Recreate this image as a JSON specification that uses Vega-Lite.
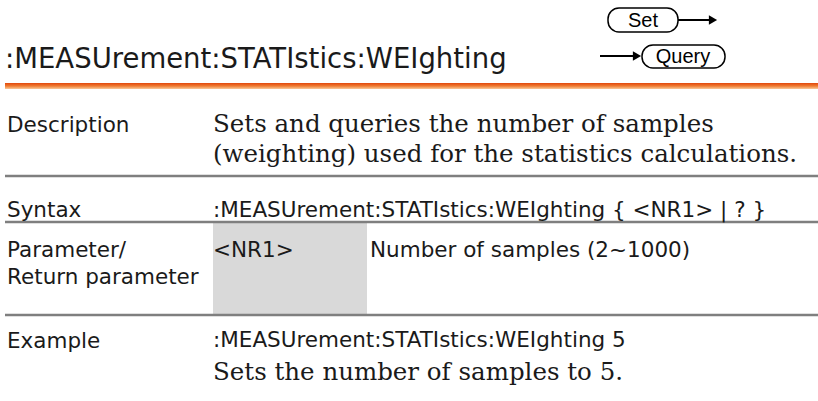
{
  "$schema": "https://vega.github.io/schema/vega-lite/v6.json",
  "width": 818,
  "height": 401,
  "padding": 0,
  "autosize": {"type": "none"},
  "background": "white",
  "config": {"view": {"stroke": null}},
  "layer": [
    {
      "data": {"values": [{"x": 213, "x2": 367, "y": 223, "y2": 314}]},
      "mark": {"type": "rect", "color": "#d9d9d9"},
      "encoding": {
        "x": {"field": "x", "type": "quantitative", "scale": {"domain": [0, 818], "nice": false, "zero": false}, "axis": null},
        "x2": {"field": "x2"},
        "y": {"field": "y", "type": "quantitative", "scale": {"domain": [0, 401], "nice": false, "zero": false, "reverse": true}, "axis": null},
        "y2": {"field": "y2"}
      }
    },
    {
      "data": {"values": [{"x": 5, "x2": 818, "y": 83, "y2": 89}]},
      "mark": {"type": "rect", "color": {"gradient": "linear", "x1": 0, "y1": 0, "x2": 0, "y2": 1, "stops": [{"offset": 0, "color": "#e2470c"}, {"offset": 0.5, "color": "#ef7a30"}, {"offset": 1, "color": "#f9c99a"}]}},
      "encoding": {
        "x": {"field": "x", "type": "quantitative", "axis": null},
        "x2": {"field": "x2"},
        "y": {"field": "y", "type": "quantitative", "axis": null},
        "y2": {"field": "y2"}
      }
    },
    {
      "data": {"values": [{"x": 5, "x2": 818, "y": 176}, {"x": 5, "x2": 818, "y": 222}, {"x": 5, "x2": 818, "y": 315}]},
      "mark": {"type": "rule", "color": "#7f7f7f", "strokeWidth": 2.5},
      "encoding": {
        "x": {"field": "x", "type": "quantitative", "axis": null},
        "x2": {"field": "x2"},
        "y": {"field": "y", "type": "quantitative", "axis": null}
      }
    },
    {
      "data": {"values": [{"text": ":MEASUrement:STATIstics:WEIghting", "x": 5, "y": 68}]},
      "mark": {"type": "text", "font": "DejaVu Sans", "fontSize": 27.5, "align": "left", "baseline": "alphabetic", "color": "#1a1a1a"},
      "encoding": {
        "x": {"field": "x", "type": "quantitative", "axis": null},
        "y": {"field": "y", "type": "quantitative", "axis": null},
        "text": {"field": "text"}
      }
    },
    {
      "data": {"values": [
        {"text": "Description", "x": 7, "y": 132},
        {"text": "Syntax", "x": 7, "y": 217},
        {"text": "Parameter/", "x": 7, "y": 257},
        {"text": "Return parameter", "x": 7, "y": 284},
        {"text": "Example", "x": 7, "y": 348},
        {"text": ":MEASUrement:STATIstics:WEIghting { <NR1> | ? }", "x": 213, "y": 217},
        {"text": "<NR1>", "x": 213, "y": 257},
        {"text": "Number of samples (2~1000)", "x": 370, "y": 257},
        {"text": ":MEASUrement:STATIstics:WEIghting 5", "x": 213, "y": 347}
      ]},
      "mark": {"type": "text", "font": "DejaVu Sans", "fontSize": 21.5, "align": "left", "baseline": "alphabetic", "color": "#1a1a1a"},
      "encoding": {
        "x": {"field": "x", "type": "quantitative", "axis": null},
        "y": {"field": "y", "type": "quantitative", "axis": null},
        "text": {"field": "text"}
      }
    },
    {
      "data": {"values": [
        {"text": "Sets and queries the number of samples", "x": 213, "y": 132},
        {"text": "(weighting) used for the statistics calculations.", "x": 213, "y": 162},
        {"text": "Sets the number of samples to 5.", "x": 213, "y": 380}
      ]},
      "mark": {"type": "text", "font": "DejaVu Serif", "fontSize": 24.5, "align": "left", "baseline": "alphabetic", "color": "#1a1a1a"},
      "encoding": {
        "x": {"field": "x", "type": "quantitative", "axis": null},
        "y": {"field": "y", "type": "quantitative", "axis": null},
        "text": {"field": "text"}
      }
    },
    {
      "data": {"values": [{"x": 678, "x2": 712, "y": 20}, {"x": 600, "x2": 636, "y": 56}]},
      "mark": {"type": "rule", "color": "black", "strokeWidth": 2},
      "encoding": {
        "x": {"field": "x", "type": "quantitative", "axis": null},
        "x2": {"field": "x2"},
        "y": {"field": "y", "type": "quantitative", "axis": null}
      }
    },
    {
      "data": {"values": [{"x": 713, "y": 20}, {"x": 637, "y": 56}]},
      "mark": {"type": "point", "shape": "triangle-right", "filled": true, "color": "black", "size": 90, "opacity": 1},
      "encoding": {
        "x": {"field": "x", "type": "quantitative", "axis": null},
        "y": {"field": "y", "type": "quantitative", "axis": null}
      }
    },
    {
      "data": {"values": [{"label": "Set", "x": 608, "x2": 678, "y": 8, "y2": 32}, {"label": "Query", "x": 642, "x2": 725, "y": 45, "y2": 68}]},
      "mark": {"type": "rect", "fill": "white", "stroke": "black", "strokeWidth": 1.5, "cornerRadius": 11},
      "encoding": {
        "x": {"field": "x", "type": "quantitative", "axis": null},
        "x2": {"field": "x2"},
        "y": {"field": "y", "type": "quantitative", "axis": null},
        "y2": {"field": "y2"}
      }
    },
    {
      "data": {"values": [{"label": "Set", "x": 643, "y": 21}, {"label": "Query", "x": 683, "y": 57}]},
      "mark": {"type": "text", "font": "Liberation Sans", "fontSize": 20, "align": "center", "baseline": "middle", "color": "black"},
      "encoding": {
        "x": {"field": "x", "type": "quantitative", "axis": null},
        "y": {"field": "y", "type": "quantitative", "axis": null},
        "text": {"field": "label"}
      }
    }
  ]
}
